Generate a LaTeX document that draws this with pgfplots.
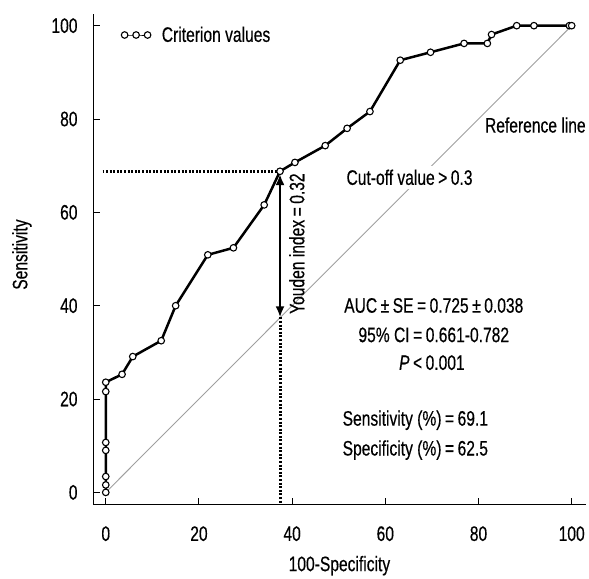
\documentclass[border=0pt]{standalone}
\usepackage{fontspec}
\setmainfont[FakeStretch=0.745, FakeBold=0.4]{Liberation Sans}
\usepackage{pgfplots}
\pgfplotsset{compat=1.18}
\usetikzlibrary{arrows.meta}
\begin{document}
\begin{tikzpicture}[font=\fontsize{21}{25}\selectfont]
\begin{axis}[
  width=493.6pt, height=492.1pt, scale only axis,
  xmin=-2.7, xmax=103, ymin=-2.7, ymax=102.5,
  axis x line=bottom, axis y line=left,
  axis line style={-, line width=1pt, black},
  tick align=inside, major tick length=7pt,
  tick style={line width=1pt, black},
  xtick={0,20,...,100}, ytick={0,20,...,100},
  /pgf/number format/assume math mode=true,
  tick label style={font=\fontsize{21}{25}\selectfont},
  xticklabel style={anchor=base, yshift=-36pt},
  yticklabel style={anchor=east, inner sep=0pt, xshift=-15.5pt},
  xlabel={100-Specificity}, ylabel={Sensitivity},
  xlabel style={at={(axis description cs:0.5,-0.1347)}, anchor=base},
  ylabel style={at={(axis description cs:-0.1337,0.51)}, anchor=base},
  clip=false,
  legend style={at={(axis cs:3.3,98)}, anchor=west, draw=none, fill=none,
    inner sep=0pt, font=\fontsize{21}{25}\selectfont,
    /tikz/every odd column/.append style={column sep=9pt}},
  legend cell align=left,
  legend image code/.code={%
    \draw[#1, line width=1pt] plot coordinates {(0pt,0pt) (11.5pt,0pt) (23pt,0pt)};},
]
% invisible frame to set the picture size
\path (axis cs:-22.7,-17.85) rectangle (axis cs:103.4,105.5);

% reference line
\addplot[forget plot, gray!75, line width=0.9pt] coordinates {(0,0) (100,100)};
\node[fill=white, inner sep=4pt, anchor=base] at (axis cs:65.2,65.9) {Cut-off value\,>\,0.3};
\node[anchor=base] at (axis cs:92.2,77.1) {Reference line};

% Youden index
\addplot[forget plot, black, line width=3pt, dash pattern=on 2pt off 1.6pt] coordinates {(-0.7,68.8) (37.4,68.8)};
\addplot[forget plot, black, line width=3pt, dash pattern=on 2pt off 1.6pt] coordinates {(37.4,37.5) (37.4,-2.7)};
\addplot[forget plot, black, line width=2.6pt, {Latex[length=11pt,width=9pt]}-{Latex[length=11pt,width=9pt]}] coordinates {(37.4,68.2) (37.4,37.5)};
\node[rotate=90, anchor=base] at (axis cs:42.6,53.3) {Youden index\,=\,0.32};

% ROC curve
\addplot[black, line width=2.5pt, mark=*, mark size=3.3pt,
  mark options={fill=white, draw=black, line width=1.1pt, solid}]
  coordinates {
  (0,0) (0,1.6) (0,3.4) (0,9.0) (0,10.7) (0,21.6) (0,23.6)
  (3.5,25.3) (5.8,29.1) (11.9,32.5) (15.0,40.0) (21.9,50.9) (27.4,52.4)
  (34.0,61.6) (37.4,68.8) (40.6,70.7) (47.1,74.3) (51.8,78.0) (56.7,81.6)
  (63.2,92.6) (69.7,94.3) (76.9,96.2) (81.9,96.2) (82.8,98.1) (88.2,100)
  (91.9,100) (99.5,100) (100,100)
  };
\addlegendentry{Criterion values}

% statistics
\node[anchor=base] at (axis cs:70.4,38.5) {AUC\,±\,SE\,=\,0.725\,±\,0.038};
\node[anchor=base] at (axis cs:70.4,32.2) {95\% CI\,=\,0.661-0.782};
\node[anchor=base] at (axis cs:70.0,26.25) {\textit{P}\,<\,0.001};
\node[anchor=base west, inner sep=0pt] at (axis cs:50.8,14.3) {Sensitivity (\%)\,=\,69.1};
\node[anchor=base west, inner sep=0pt] at (axis cs:50.8,7.9) {Specificity (\%)\,=\,62.5};
\end{axis}
\end{tikzpicture}
\end{document}
